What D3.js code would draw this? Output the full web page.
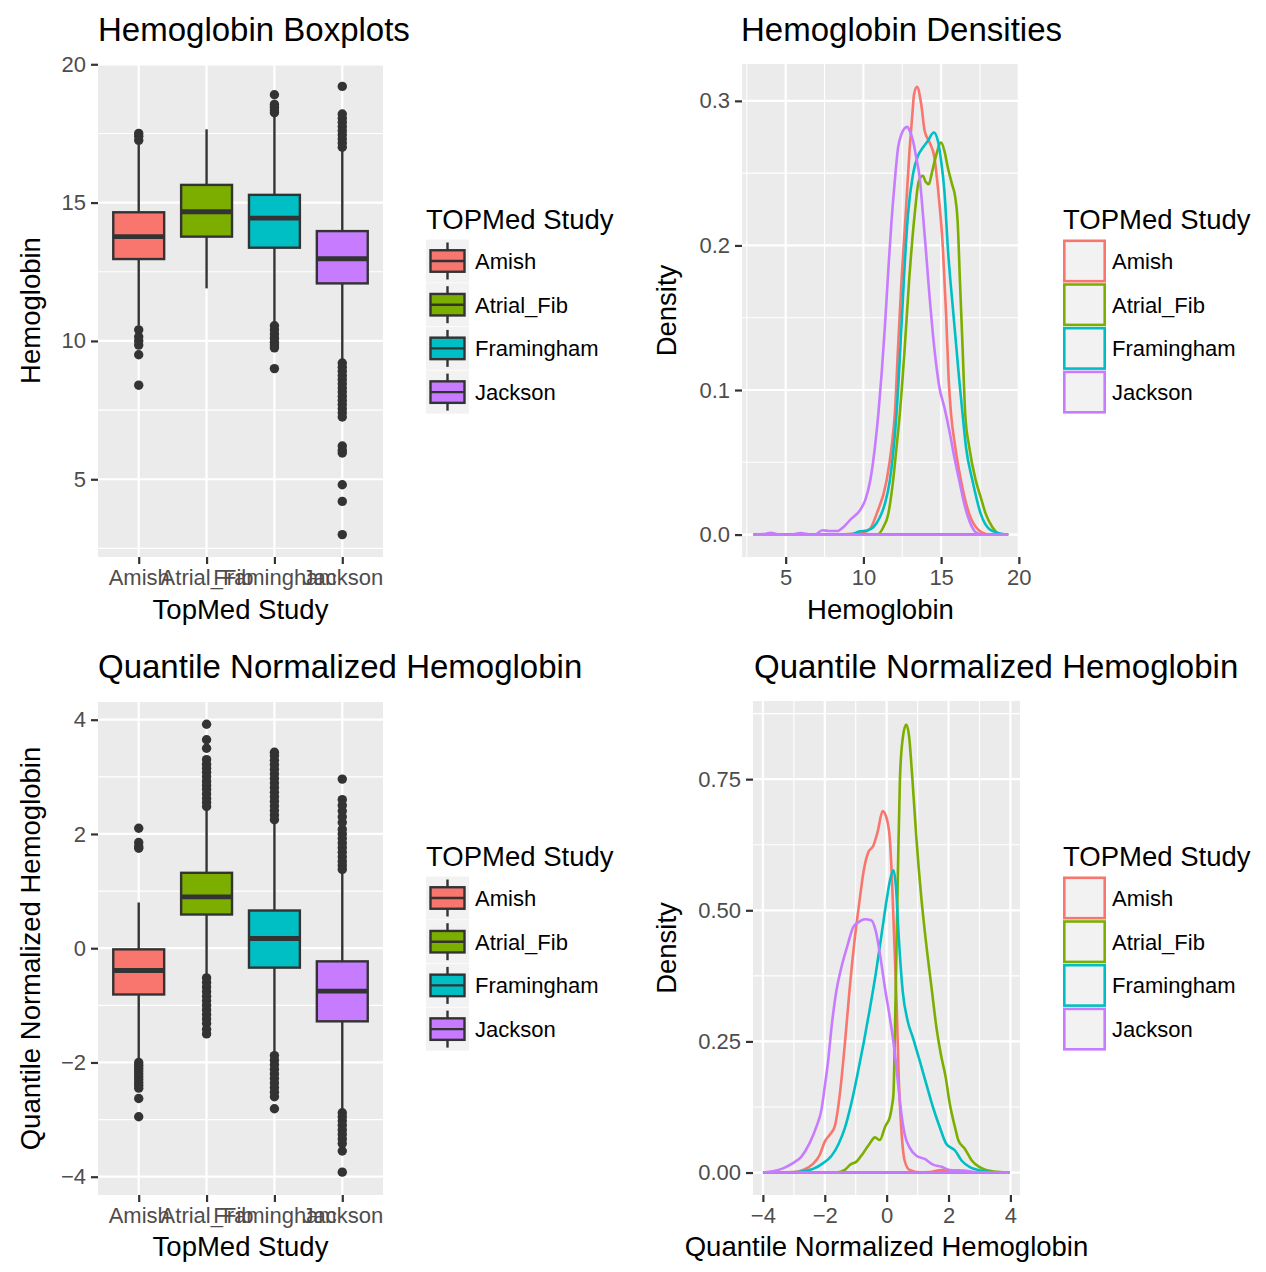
<!DOCTYPE html>
<html>
<head>
<meta charset="utf-8">
<script src="https://cdn.jsdelivr.net/npm/d3@7"></script>
<style>
body { margin: 0; background: #fff; }
svg { display: block; font-family: "Liberation Sans", Arial, Helvetica, sans-serif; }
</style>
</head>
<body>
<svg id="chart" width="1266" height="1272"></svg>
<script>
// categories + colours
const studies = ["Amish", "Atrial_Fib", "Framingham", "Jackson"];
const studyColors = ["#F8766D", "#7CAE00", "#00BFC4", "#C77CFF"];

// boxplot stats per study: [lower whisker, q1, median, q3, upper whisker]
const hgbBox = [
    [10.55, 12.96, 13.77, 14.65, 17.1],
    [11.9, 13.77, 14.67, 15.64, 17.65],
    [10.6, 13.37, 14.44, 15.28, 18.2],
    [9.3, 12.08, 12.97, 13.97, 16.9]
];
const hgbOutAmish = [17.5, 17.4, 17.25, 10.4, 10.15, 10.0, 9.85, 9.5, 8.4];
const hgbOutAtrial = [];
const hgbOutFram = [18.9, 18.55, 18.45, 18.35, 18.25, 10.55, 10.4, 10.25, 10.1, 9.95, 9.85, 9.75, 9.0];
const hgbOutJackson = [19.2, 18.2, 18.05, 17.9, 17.75, 17.6, 17.45, 17.3, 17.15, 17.0,
    9.2, 9.05, 8.9, 8.75, 8.6, 8.45, 8.3, 8.15, 8.0, 7.85, 7.7, 7.55, 7.4, 7.25,
    6.2, 6.05, 5.95, 4.8, 4.2, 3.0];

const qnBox = [
    [-1.95, -0.81, -0.39, -0.02, 0.80],
    [-0.48, 0.59, 0.90, 1.32, 2.42],
    [-1.83, -0.34, 0.17, 0.66, 2.2],
    [-2.83, -1.28, -0.75, -0.23, 1.32]
];
const qnOutAmish = [2.1, 1.85, 1.78, 1.75, -2.0, -2.05, -2.1, -2.15, -2.2, -2.25, -2.3,
    -2.35, -2.4, -2.45, -2.63, -2.95];
const qnOutAtrial = [2.48, 2.55, 2.62, 2.7, 2.78, 2.85, 2.92, 3.0, 3.08, 3.15, 3.22, 3.3,
    3.5, 3.65, 3.92, -0.52, -0.6, -0.68, -0.76, -0.84, -0.92, -1.0, -1.08, -1.16,
    -1.24, -1.32, -1.42, -1.5];
const qnOutFram = [2.25, 2.33, 2.41, 2.49, 2.57, 2.65, 2.73, 2.81, 2.89, 2.97, 3.05, 3.13,
    3.21, 3.29, 3.37, 3.43, -1.88, -1.96, -2.04, -2.12, -2.2, -2.28, -2.36, -2.44,
    -2.52, -2.6, -2.81];
const qnOutJackson = [1.38, 1.45, 1.52, 1.6, 1.68, 1.76, 1.84, 1.92, 2.0, 2.08, 2.2, 2.3,
    2.4, 2.5, 2.6, 2.96, -2.88, -2.95, -3.02, -3.1, -3.18, -3.26, -3.34, -3.42,
    -3.55, -3.92];

// density curves, [x, density]
const hgbDensAmish = [[3.0,0],[8.6,0],[9.2,0.0005],[10.0,0.0015],[10.43,0.004],[10.85,0.0143],
    [11.49,0.0373],[11.81,0.0604],[12.02,0.0834],[12.23,0.1295],[12.45,0.1756],[12.72,0.2217],
    [12.98,0.2677],[13.15,0.2908],[13.26,0.3046],[13.45,0.3097],[13.72,0.2977],[13.94,0.2793],
    [14.26,0.2712],[14.57,0.2608],[14.79,0.2401],[15.11,0.1986],[15.32,0.1525],[15.49,0.1065],
    [15.64,0.0834],[15.91,0.0604],[16.28,0.0373],[16.81,0.0143],[17.45,0.0028],[18.1,0],[19.25,0]];
const hgbDensAtrial = [[3.0,0],[10.9,0],[11.28,0.0051],[11.6,0.0143],[11.91,0.0373],[12.13,0.0604],
    [12.34,0.0834],[12.66,0.1295],[12.94,0.1756],[13.3,0.2217],[13.57,0.2447],[13.83,0.2482],
    [14.0,0.244],[14.21,0.2424],[14.4,0.25],[14.64,0.2608],[15.0,0.2712],[15.21,0.2654],
    [15.43,0.2539],[15.7,0.2424],[15.91,0.2332],[16.06,0.2171],[16.21,0.1756],[16.38,0.1295],
    [16.55,0.0834],[16.81,0.0604],[17.23,0.0373],[17.55,0.0258],[17.87,0.0143],[18.3,0.0051],
    [18.83,0],[19.25,0]];
const hgbDensFram = [[3.0,0],[9.1,0],[9.79,0.0023],[10.21,0.0028],[10.64,0.0051],[11.06,0.012],
    [11.38,0.0212],[11.7,0.0373],[11.91,0.0558],[12.13,0.0834],[12.38,0.1295],[12.6,0.1756],
    [12.87,0.2217],[13.19,0.2493],[13.51,0.262],[13.83,0.2677],[14.15,0.2724],[14.53,0.2781],
    [14.79,0.2724],[15.0,0.2585],[15.21,0.2378],[15.43,0.1986],[15.79,0.1525],[16.17,0.1065],
    [16.38,0.0834],[16.6,0.0604],[17.02,0.0373],[17.55,0.0143],[18.09,0.0039],[18.72,0.001],[19.25,0]];
const hgbDensJackson = [[3.0,0],[3.6,0.0003],[4.04,0.0012],[4.5,0.0002],[5.4,0],[5.96,0.001],
    [6.5,0.0002],[6.9,0],[7.35,0.003],[7.8,0.0025],[8.31,0.0025],[8.74,0.0055],[9.17,0.0104],
    [9.81,0.0173],[10.13,0.0242],[10.45,0.038],[10.74,0.0604],[10.96,0.0834],[11.17,0.111],
    [11.38,0.1433],[11.6,0.1825],[11.81,0.217],[12.02,0.2447],[12.23,0.2677],[12.45,0.277],
    [12.81,0.282],[12.98,0.2793],[13.19,0.2724],[13.4,0.2608],[13.62,0.247],[13.83,0.2217],
    [14.04,0.194],[14.26,0.164],[14.47,0.1387],[14.68,0.118],[14.89,0.1018],[15.21,0.088],
    [15.53,0.0719],[15.85,0.0535],[16.17,0.0373],[16.49,0.0212],[16.81,0.0097],[17.23,0.0016],
    [17.66,0],[19.25,0]];

const qnDensAmish = [[-3.96,0],[-3.03,0.001],[-2.7,0.005],[-2.38,0.0165],[-2.16,0.034],[-2.0,0.059],
    [-1.84,0.072],[-1.68,0.0875],[-1.51,0.151],[-1.35,0.246],[-1.21,0.341],[-1.05,0.436],
    [-0.89,0.512],[-0.74,0.576],[-0.59,0.611],[-0.43,0.623],[-0.29,0.65],[-0.13,0.689],
    [-0.02,0.679],[0.09,0.644],[0.17,0.562],[0.25,0.435],[0.33,0.308],[0.39,0.181],[0.47,0.086],
    [0.58,0.023],[0.74,0.005],[1.07,0.0006],[1.39,0.001],[1.77,0.005],[2.1,0.0025],[2.7,0],[3.94,0]];
const qnDensAtrial = [[-3.96,0],[-1.62,0],[-1.35,0.005],[-1.19,0.0146],[-0.97,0.021],[-0.76,0.037],
    [-0.54,0.056],[-0.38,0.067],[-0.22,0.062],[-0.05,0.0875],[0.11,0.107],[0.18,0.13],[0.22,0.15],
    [0.28,0.308],[0.36,0.562],[0.43,0.752],[0.52,0.828],[0.63,0.854],[0.72,0.834],[0.83,0.752],
    [0.96,0.638],[1.12,0.524],[1.28,0.435],[1.45,0.353],[1.61,0.276],[1.75,0.226],[1.91,0.181],
    [2.04,0.131],[2.21,0.086],[2.32,0.061],[2.53,0.045],[2.75,0.023],[3.02,0.01],[3.46,0.002],[3.94,0]];
const qnDensFram = [[-3.96,0],[-3.0,0.0005],[-2.7,0.0025],[-2.38,0.007],[-2.05,0.018],[-1.78,0.032],
    [-1.55,0.055],[-1.35,0.085],[-1.15,0.13],[-0.95,0.185],[-0.75,0.245],[-0.55,0.31],[-0.35,0.38],
    [-0.15,0.46],[0.0,0.52],[0.1,0.555],[0.22,0.576],[0.3,0.545],[0.39,0.45],[0.52,0.345],
    [0.68,0.289],[0.85,0.257],[1.07,0.213],[1.28,0.169],[1.5,0.124],[1.72,0.086],[1.93,0.0545],
    [2.21,0.042],[2.42,0.023],[2.7,0.01],[3.02,0.004],[3.46,0.0006],[3.94,0]];
const qnDensJackson = [[-3.96,0],[-3.68,0.0025],[-3.35,0.008],[-3.03,0.018],[-2.76,0.03],[-2.49,0.056],
    [-2.27,0.0875],[-2.11,0.119],[-2.0,0.164],[-1.89,0.214],[-1.78,0.278],[-1.64,0.341],
    [-1.46,0.392],[-1.28,0.43],[-1.08,0.468],[-0.92,0.477],[-0.7,0.483],[-0.5,0.481],[-0.35,0.46],
    [-0.2,0.41],[-0.05,0.35],[0.09,0.3],[0.25,0.235],[0.36,0.175],[0.47,0.115],[0.58,0.0736],
    [0.74,0.048],[0.96,0.032],[1.23,0.026],[1.5,0.015],[1.77,0.011],[2.04,0.005],[2.48,0.004],
    [2.91,0.0006],[3.94,0]];

// axis breaks
const hgbMajor = [5, 10, 15, 20], hgbMinor = [2.5, 7.5, 12.5, 17.5];
const qnMajor = [-4, -2, 0, 2, 4], qnMinor = [-3, -1, 1, 3];
const densTopMajor = [0, 0.1, 0.2, 0.3], densTopMinor = [0.05, 0.15, 0.25];
const densBotMajor = [0, 0.25, 0.5, 0.75], densBotMinor = [0.125, 0.375, 0.625, 0.875];

const svg = d3.select("#chart");
const TICK_COL = "#4D4D4D";

function styleAxis(g) {
    g.select(".domain").remove();
    g.selectAll(".tick line").attr("stroke", "#333333").attr("stroke-width", 2.2);
    g.selectAll(".tick text").attr("fill", TICK_COL).style("font-size", "22px")
        .style("font-family", "'Liberation Sans', Arial, sans-serif");
}

function panel(box, x, y, xMajor, xMinor, yMajor, yMinor) {
    const g = svg.append("g");
    g.append("rect").attr("x", box.left).attr("y", box.top)
        .attr("width", box.right - box.left).attr("height", box.bottom - box.top)
        .attr("fill", "#EBEBEB");
    g.selectAll(".ymin").data(yMinor).join("line")
        .attr("x1", box.left).attr("x2", box.right)
        .attr("y1", d => y(d)).attr("y2", d => y(d))
        .attr("stroke", "#fff").attr("stroke-width", 1.1);
    g.selectAll(".xmin").data(xMinor).join("line")
        .attr("y1", box.top).attr("y2", box.bottom)
        .attr("x1", d => x(d)).attr("x2", d => x(d))
        .attr("stroke", "#fff").attr("stroke-width", 1.1);
    g.selectAll(".ymaj").data(yMajor).join("line")
        .attr("x1", box.left).attr("x2", box.right)
        .attr("y1", d => y(d)).attr("y2", d => y(d))
        .attr("stroke", "#fff").attr("stroke-width", 2.2);
    g.selectAll(".xmaj").data(xMajor).join("line")
        .attr("y1", box.top).attr("y2", box.bottom)
        .attr("x1", d => x(d)).attr("x2", d => x(d))
        .attr("stroke", "#fff").attr("stroke-width", 2.2);
    return g;
}

function axes(box, x, y, xVals, xFmt, yVals, yFmt) {
    svg.append("g").attr("transform", `translate(0,${box.bottom})`)
        .call(d3.axisBottom(x).tickValues(xVals).tickFormat(xFmt).tickSize(7).tickPadding(5))
        .call(styleAxis);
    svg.append("g").attr("transform", `translate(${box.left},0)`)
        .call(d3.axisLeft(y).tickValues(yVals).tickFormat(yFmt).tickSize(7).tickPadding(5))
        .call(styleAxis);
}

function texts(title, tx, ty, xTitle, xcx, xby, yTitle, ycy, ybx) {
    svg.append("text").attr("x", tx).attr("y", ty).text(title)
        .style("font-size", "33px").attr("fill", "#000");
    svg.append("text").attr("x", xcx).attr("y", xby).attr("text-anchor", "middle")
        .text(xTitle).style("font-size", "27.5px").attr("fill", "#000");
    svg.append("text").attr("transform", `translate(${ybx},${ycy}) rotate(-90)`)
        .attr("text-anchor", "middle").text(yTitle)
        .style("font-size", "27.5px").attr("fill", "#000");
}

function legend(lx, titleY, firstCenter, kind) {
    const g = svg.append("g");
    g.append("text").attr("x", lx).attr("y", titleY).text("TOPMed Study")
        .style("font-size", "27.5px").attr("fill", "#000");
    const key = 43, step = 43.7;
    studies.forEach((s, i) => {
        const cy = firstCenter + i * step;
        const top = cy - key / 2;
        if (kind === "box") {
            g.append("rect").attr("x", lx).attr("y", top).attr("width", key).attr("height", key)
                .attr("fill", "#F2F2F2");
            const cx = lx + key / 2;
            g.append("line").attr("x1", cx).attr("x2", cx).attr("y1", top + 3).attr("y2", top + key - 3)
                .attr("stroke", "#333").attr("stroke-width", 2.4);
            g.append("rect").attr("x", lx + 4.5).attr("y", top + key * 0.25)
                .attr("width", key - 9).attr("height", key * 0.5)
                .attr("fill", studyColors[i]).attr("stroke", "#333").attr("stroke-width", 2.4);
            g.append("line").attr("x1", lx + 4.5).attr("x2", lx + key - 4.5).attr("y1", cy).attr("y2", cy)
                .attr("stroke", "#333").attr("stroke-width", 2.4);
        } else {
            g.append("rect").attr("x", lx + 1.3).attr("y", top + 1.3)
                .attr("width", key - 2.6).attr("height", key - 2.6)
                .attr("fill", "#F2F2F2").attr("stroke", studyColors[i]).attr("stroke-width", 2.6);
        }
        g.append("text").attr("x", lx + key + 6).attr("y", cy + 8).text(s)
            .style("font-size", "22px").attr("fill", "#000");
    });
}

function boxplots(box, y, stats, outliers) {
    const x = d3.scaleLinear().domain([0.4, 4.6]).range([box.left, box.right]);
    const g = svg.append("g");
    stats.forEach((st, i) => {
        const c = x(i + 1), half = x(i + 1.375) - c;
        g.append("line").attr("x1", c).attr("x2", c).attr("y1", y(st[0])).attr("y2", y(st[1]))
            .attr("stroke", "#333").attr("stroke-width", 2.4);
        g.append("line").attr("x1", c).attr("x2", c).attr("y1", y(st[3])).attr("y2", y(st[4]))
            .attr("stroke", "#333").attr("stroke-width", 2.4);
        g.append("rect").attr("x", c - half).attr("width", 2 * half)
            .attr("y", y(st[3])).attr("height", y(st[1]) - y(st[3]))
            .attr("fill", studyColors[i]).attr("stroke", "#333").attr("stroke-width", 2.4);
        g.append("line").attr("x1", c - half).attr("x2", c + half)
            .attr("y1", y(st[2])).attr("y2", y(st[2]))
            .attr("stroke", "#333").attr("stroke-width", 4.8);
        g.selectAll(null).data(outliers[i]).join("circle")
            .attr("cx", c).attr("cy", d => y(d)).attr("r", 4.7).attr("fill", "#333");
    });
    return x;
}

function densities(x, y, series) {
    const line = d3.line().x(d => x(d[0])).y(d => y(d[1])).curve(d3.curveMonotoneX);
    series.forEach((pts, i) => {
        svg.append("path").attr("d", line(pts) + "Z").attr("fill", "none")
            .attr("stroke", studyColors[i]).attr("stroke-width", 2.6).attr("stroke-linejoin", "round");
    });
}

// ---- top left: Hemoglobin boxplots
const tl = { left: 98, right: 383, top: 64, bottom: 557 };
const yHgb = d3.scaleLinear().domain([2.19, 20.01]).range([tl.bottom, tl.top]);
const xCat = d3.scaleLinear().domain([0.4, 4.6]).range([tl.left, tl.right]);
panel(tl, xCat, yHgb, [1, 2, 3, 4], [], hgbMajor, hgbMinor);
boxplots(tl, yHgb, hgbBox, [hgbOutAmish, hgbOutAtrial, hgbOutFram, hgbOutJackson]);
axes(tl, xCat, yHgb, [1, 2, 3, 4], i => studies[i - 1], hgbMajor, d3.format("d"));
texts("Hemoglobin Boxplots", 98, 41, "TopMed Study", 240.5, 619, "Hemoglobin", 310.5, 40);
legend(426, 229, 261, "box");

// ---- top right: Hemoglobin densities
const tr = { left: 742, right: 1019, top: 64, bottom: 557 };
const xHgbD = d3.scaleLinear().domain([2.19, 20.01]).range([tr.left, tr.right]);
const yDensT = d3.scaleLinear().domain([-0.0155, 0.3255]).range([tr.bottom, tr.top]);
panel(tr, xHgbD, yDensT, hgbMajor, hgbMinor, densTopMajor, densTopMinor);
densities(xHgbD, yDensT, [hgbDensAmish, hgbDensAtrial, hgbDensFram, hgbDensJackson]);
axes(tr, xHgbD, yDensT, hgbMajor, d3.format("d"), densTopMajor, d3.format(".1f"));
texts("Hemoglobin Densities", 741, 41, "Hemoglobin", 880.5, 619, "Density", 310.5, 676);
legend(1063, 229, 261, "dens");

// ---- bottom left: quantile normalized boxplots
const bl = { left: 98, right: 383, top: 702, bottom: 1195 };
const yQn = d3.scaleLinear().domain([-4.32, 4.31]).range([bl.bottom, bl.top]);
const xCat2 = d3.scaleLinear().domain([0.4, 4.6]).range([bl.left, bl.right]);
panel(bl, xCat2, yQn, [1, 2, 3, 4], [], qnMajor, qnMinor);
boxplots(bl, yQn, qnBox, [qnOutAmish, qnOutAtrial, qnOutFram, qnOutJackson]);
axes(bl, xCat2, yQn, [1, 2, 3, 4], i => studies[i - 1], qnMajor, d => d3.format("d")(d).replace("-", "\u2212"));
texts("Quantile Normalized Hemoglobin", 98, 678, "TopMed Study", 240.5, 1256,
    "Quantile Normalized Hemoglobin", 948.5, 40);
legend(426, 866, 898, "box");

// ---- bottom right: quantile normalized densities
const br = { left: 753, right: 1020, top: 701, bottom: 1195 };
const xQnD = d3.scaleLinear().domain([-4.32, 4.31]).range([br.left, br.right]);
const yDensB = d3.scaleLinear().domain([-0.0428, 0.899]).range([br.bottom, br.top]);
panel(br, xQnD, yDensB, qnMajor, qnMinor, densBotMajor, densBotMinor);
densities(xQnD, yDensB, [qnDensAmish, qnDensAtrial, qnDensFram, qnDensJackson]);
axes(br, xQnD, yDensB, qnMajor, d => d3.format("d")(d).replace("-", "\u2212"), densBotMajor, d3.format(".2f"));
texts("Quantile Normalized Hemoglobin", 754, 678, "Quantile Normalized Hemoglobin", 886.5, 1256,
    "Density", 948, 676);
legend(1063, 866, 898, "dens");
</script>
</body>
</html>
